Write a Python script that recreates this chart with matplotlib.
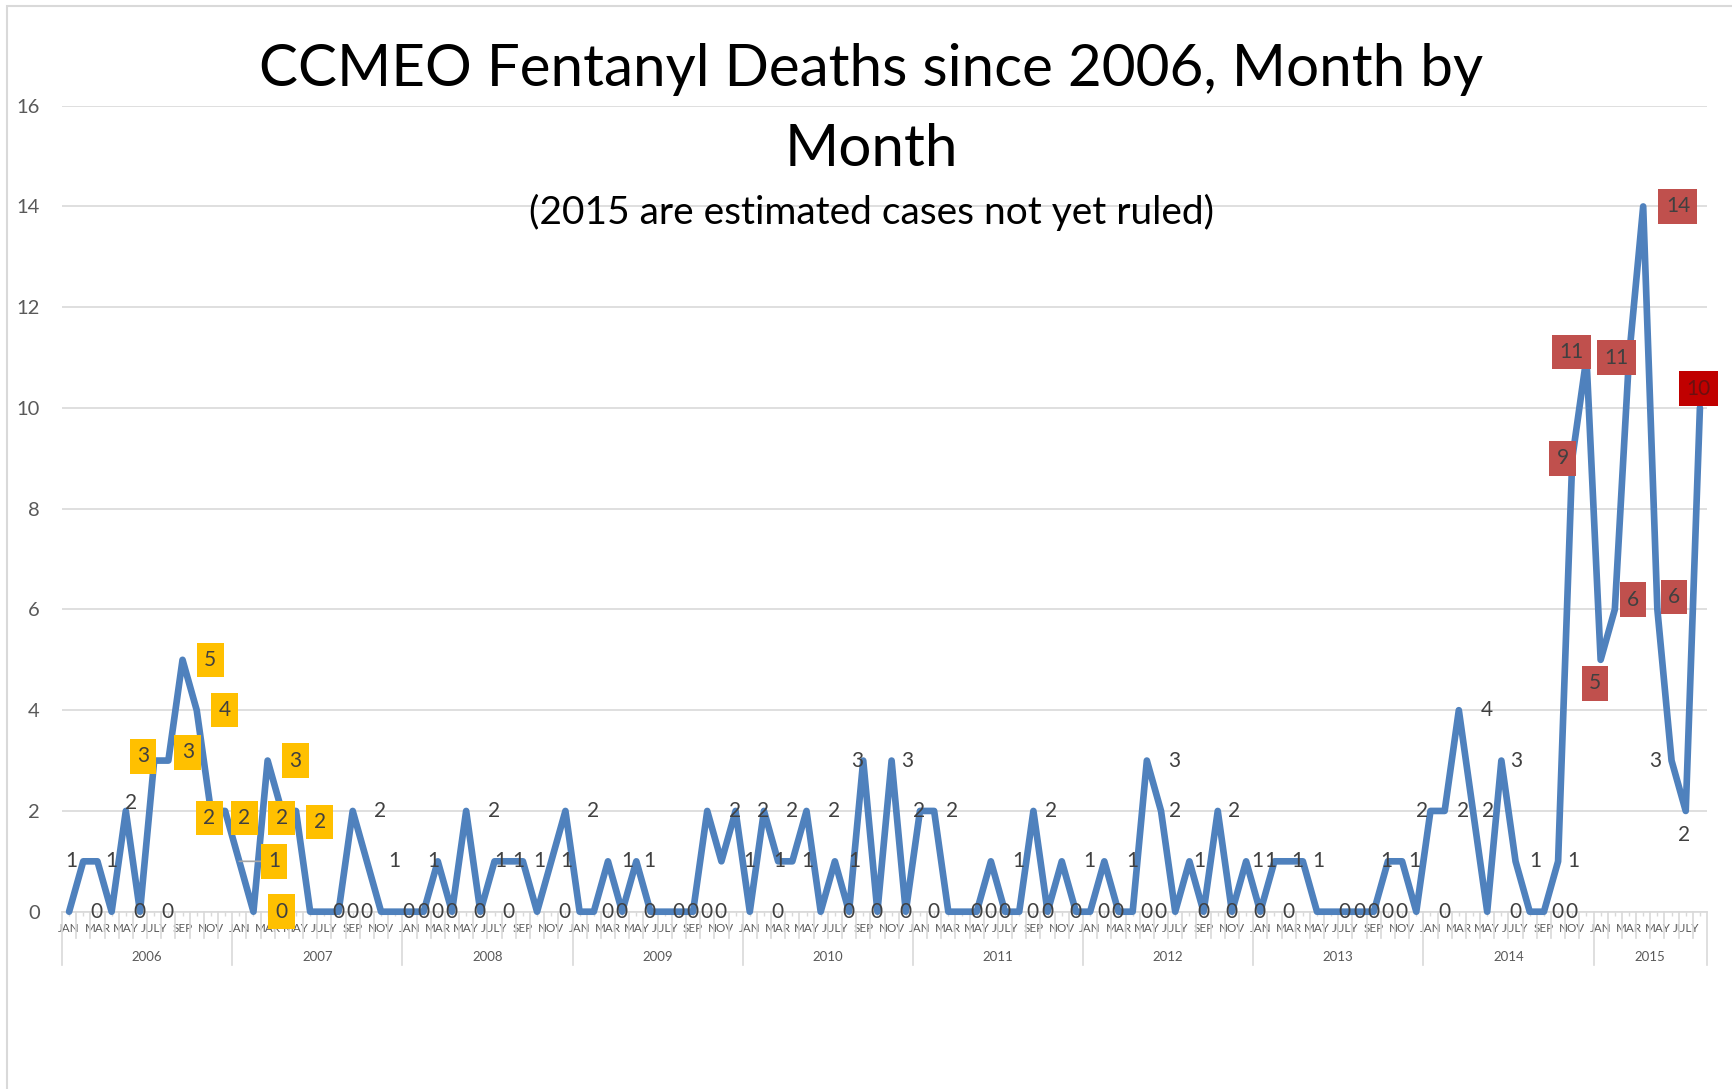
import matplotlib
matplotlib.use("Agg")
import matplotlib.pyplot as plt
import matplotlib.transforms as mtransforms
from matplotlib.patches import Rectangle

plt.rcParams['font.family'] = ['Lato', 'DejaVu Sans']

# monthly fentanyl deaths, Jan 2006 .. Aug 2015
years = ['2006', '2007', '2008', '2009', '2010', '2011', '2012', '2013', '2014', '2015']
months = ['JAN', 'FEB', 'MAR', 'APR', 'MAY', 'JUNE', 'JULY', 'AUG', 'SEP', 'OCT', 'NOV', 'DEC']
d2006 = [0, 1, 1, 0, 2, 0, 3, 3, 5, 4, 2, 2]
d2007 = [1, 0, 3, 2, 2, 0, 0, 0, 2, 1, 0, 0]
d2008 = [0, 0, 1, 0, 2, 0, 1, 1, 1, 0, 1, 2]
d2009 = [0, 0, 1, 0, 1, 0, 0, 0, 0, 2, 1, 2]
d2010 = [0, 2, 1, 1, 2, 0, 1, 0, 3, 0, 3, 0]
d2011 = [2, 2, 0, 0, 0, 1, 0, 0, 2, 0, 1, 0]
d2012 = [0, 1, 0, 0, 3, 2, 0, 1, 0, 2, 0, 1]
d2013 = [0, 1, 1, 1, 0, 0, 0, 0, 0, 1, 1, 0]
d2014 = [2, 2, 4, 2, 0, 3, 1, 0, 0, 1, 9, 11]
d2015 = [5, 6, 11, 14, 6, 3, 2, 10]

yearly = [d2006, d2007, d2008, d2009, d2010, d2011, d2012, d2013, d2014, d2015]
deaths = [v for yr in yearly for v in yr]
x = list(range(len(deaths)))

# which labels got highlighted boxes
yellow_idx = list(range(6, 17))
red_idx = [106, 107, 108, 109, 110, 111, 112]
dark_red_idx = [115]

# label nudges in points (dx, dy), default is to the right of the point
default_off = (20, 0)
label_off = {
    2: (-19, 0), 4: (4, 6),
    6: (-8, 3), 7: (14, 6), 10: (-1, -5), 11: (14, -5), 12: (25, 0),
    14: (20, 0), 15: (0, -5), 16: (17, -8),
    26: (-3, 0), 30: (4, 0), 31: (7, 0), 32: (12, 0), 34: (11, 0),
    38: (14, 0), 40: (9, 0), 50: (1, 0), 51: (11, 0), 54: (14, 0),
    56: (-4, 0), 58: (11, 0), 60: (-1, 0), 61: (13, 0), 68: (13, 0),
    77: (10, 0), 79: (7, 0), 81: (12, 0), 83: (8, 0), 85: (-3, 0),
    86: (6, 0), 87: (11, 0), 93: (-1, 0), 94: (9, 0), 96: (-6, 0),
    97: (13, 0), 99: (11, 0), 101: (11, 0), 102: (14, 0), 105: (11, 0),
    106: (-7, 0), 107: (-11, 4), 108: (-4, -17), 109: (13, 7),
    110: (-9, 0), 111: (25, 0), 112: (12, 9), 113: (-12, 0),
    114: (-1, -17), 115: (-1, 14),
}

fig = plt.figure(figsize=(17.32, 10.89), dpi=100)
fig.patch.set_facecolor('white')
ax = fig.add_axes([62 / 1732, 1 - 911.7 / 1089, 1645 / 1732, 806 / 1089])
ax.set_facecolor('none')

# chart border (only left / top visible in the reference)
fig.add_artist(Rectangle((7 / 1732, -0.1), 1.2, 1.1 - 6 / 1089, transform=fig.transFigure,
                         fill=False, edgecolor='#D9D9D9', lw=1.5))

ax.set_xlim(-0.5, len(deaths) - 0.5)
ax.set_ylim(0, 16)
ax.set_yticks(range(0, 17, 2))
ax.grid(axis='y', color='#D9D9D9', lw=1.2)
ax.set_axisbelow(True)
for s in ['left', 'right', 'top']:
    ax.spines[s].set_visible(False)
ax.spines['bottom'].set_color('#D9D9D9')
ax.spines['bottom'].set_linewidth(1.2)
ax.tick_params(axis='y', length=0, pad=16, labelsize=14.5, labelcolor='#595959')

ax.set_xticks(x)
ax.set_xticklabels([months[i % 12] if i % 2 == 0 else '' for i in x])
ax.tick_params(axis='x', length=3, width=1, color='#D9D9D9', pad=5,
               labelsize=8.4, labelcolor='#595959')

trans = mtransforms.blended_transform_factory(ax.transData, ax.transAxes)
for i in range(len(deaths) + 1):
    depth = -0.066 if i % 12 == 0 or i == len(deaths) else -0.033
    ax.plot([i - 0.5, i - 0.5], [0, depth], transform=trans, color='#D9D9D9',
            lw=1.2, clip_on=False)
for j, yr in enumerate(years):
    start = j * 12
    center = start + (len(yearly[j]) - 1) / 2
    ax.text(center, -0.056, yr, transform=trans, ha='center', va='center',
            fontsize=9.5, color='#595959')

ax.plot(x, deaths, color='#4F81BD', lw=4.8, solid_joinstyle='round',
        solid_capstyle='round', clip_on=False, zorder=3)

for i, v in enumerate(deaths):
    dx, dy = label_off.get(i, default_off)
    kw = dict(fontsize=15, color='#404040', ha='center', va='center',
              textcoords='offset points', annotation_clip=False, zorder=5)
    if i in yellow_idx:
        kw['bbox'] = dict(boxstyle='square,pad=0.35', fc='#FFC000', ec='none')
    elif i in red_idx:
        kw['bbox'] = dict(boxstyle='square,pad=0.35', fc='#C0504D', ec='none')
    elif i in dark_red_idx:
        kw['bbox'] = dict(boxstyle='square,pad=0.35', fc='#C00000', ec='none')
        kw['color'] = '#6B1010'
    if i == 12:
        kw['arrowprops'] = dict(arrowstyle='-', color='#A6A6A6', lw=1.2,
                                shrinkA=0, shrinkB=0)
    ax.annotate(str(v), (i, v), xytext=(dx, dy), **kw)

# multi-line text with va='baseline' is anchored at the last line
fig.text(871 / 1732, 1 - 166 / 1089, 'CCMEO Fentanyl Deaths since 2006, Month by\nMonth',
         ha='center', va='baseline', fontsize=42, color='black', linespacing=1.62,
         multialignment='center')
fig.text(871 / 1732, 1 - 224 / 1089, '(2015 are estimated cases not yet ruled)',
         ha='center', va='baseline', fontsize=28, color='black')

fig.savefig('out.png', dpi=100, facecolor='white')
